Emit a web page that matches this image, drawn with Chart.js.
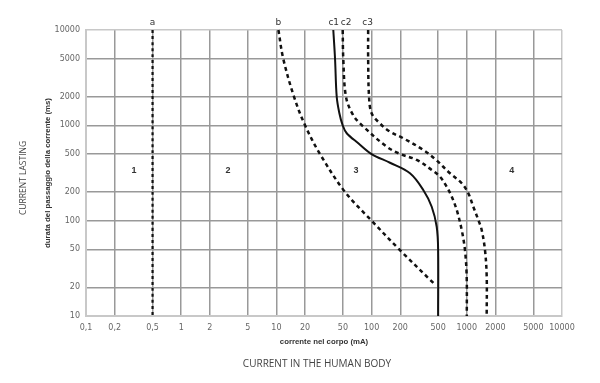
<!DOCTYPE html>
<html><head><meta charset="utf-8">
<script src="https://cdn.jsdelivr.net/npm/chart.js@4"></script>
<style>html,body{margin:0;padding:0;background:#fff;}#wrap{width:600px;height:383px;position:relative;}</style>
</head><body><div id="wrap"><canvas id="c"></canvas></div>
<script>
// Tick values and labels
const xTicks = [0.1,0.2,0.5,1,2,5,10,20,50,100,200,500,1000,2000,5000,10000];
const xTickLabels = ['0,1','0,2','0,5','1','2','5','10','20','50','100','200','500','1000','2000','5000','10000'];
const yTicks = [10,20,50,100,200,500,1000,2000,5000,10000];

// Curves (current mA, duration ms)
const aX = [0.5, 0.5];
const aY = [10000, 10];
const bX = [10.5, 11.8, 15.3, 20, 28.7, 52.6, 100, 195, 450];
const bY = [10000, 5000, 2000, 1000, 500, 200, 100, 50, 22];
const c1X = [39.6, 41.3, 43, 45.8, 49.7, 54.8, 72.5, 100, 156, 253, 349, 428, 483, 500, 500];
const c1Y = [10000, 5000, 2000, 1349, 1000, 826, 649, 500, 405, 314, 210, 140, 86, 49, 10];
const c2X = [49.7, 50.4, 53.8, 63.8, 79.3, 144, 200, 298, 428, 523, 615, 694, 783, 884, 957, 997, 1000];
const c2Y = [10000, 5000, 2000, 1285, 1000, 597, 500, 434, 340, 289, 227, 179, 130, 80, 49, 26, 10];
const c3X = [92, 92, 94, 100, 122, 156, 215, 349, 475, 666, 884, 1037, 1170, 1321, 1433, 1553, 1618, 1618];
const c3Y = [10000, 5000, 2000, 1340, 1050, 859, 732, 552, 434, 314, 247, 194, 140, 102, 80, 49, 26, 10];

// Curve name labels (placed above the plot at these currents)
const curveLabelText = ['a', 'b', 'c1', 'c2', 'c3'];
const curveLabelX = [0.5, 10.5, 40, 54, 91];
// Zone numbers
const zoneText = ['1', '2', '3', '4'];
const zoneX = [0.32, 3.1, 68.6, 2965];
const zoneY = [332, 332, 332, 332];

const pts = (xs, ys) => xs.map((x, i) => ({x, y: ys[i]}));

const labelsPlugin = {
  id: 'labelsPlugin',
  afterDraw(chart) {
    const {ctx, scales: {x, y}, chartArea} = chart;
    ctx.save();
    ctx.fillStyle = '#333';
    ctx.textAlign = 'center';
    ctx.textBaseline = 'middle';
    ctx.font = '9px "DejaVu Sans"';
    curveLabelText.forEach((t, i) => {
      ctx.fillText(t, x.getPixelForValue(curveLabelX[i]), chartArea.top - 7);
    });
    ctx.font = 'bold 9px "Liberation Sans"';
    zoneText.forEach((t, i) => {
      ctx.fillText(t, x.getPixelForValue(zoneX[i]), y.getPixelForValue(zoneY[i]));
    });
    ctx.fillStyle = '#444';
    ctx.font = '10px "Open Sans"';
    ctx.fillText('CURRENT IN THE HUMAN BODY', 317, 364);
    ctx.translate(24, 178);
    ctx.rotate(-Math.PI / 2);
    ctx.font = '8.5px "Open Sans"';
    ctx.fillText('CURRENT LASTING', 0, 0);
    ctx.restore();
  }
};

const lineDs = (label, data, dash, width) => ({
  label, data, showLine: true, pointRadius: 0, borderColor: '#111',
  borderWidth: width, borderDash: dash, tension: 0.35, fill: false, clip: 3
});

new Chart(document.getElementById('c'), {
  type: 'scatter',
  data: {
    datasets: [
      lineDs('a', pts(aX, aY), [3, 3], 2.2),
      lineDs('b', pts(bX, bY), [4, 3.5], 2.5),
      lineDs('c1', pts(c1X, c1Y), [], 2),
      lineDs('c2', pts(c2X, c2Y), [4, 3.5], 2.5),
      lineDs('c3', pts(c3X, c3Y), [4, 3.5], 2.5)
    ]
  },
  options: {
    responsive: true,
    maintainAspectRatio: false,
    animation: false,
    layout: {padding: {top: 30, right: 38, left: 0, bottom: 0}},
    plugins: {legend: {display: false}, tooltip: {enabled: false}},
    scales: {
      x: {
        type: 'logarithmic', min: 0.1, max: 10000,
        afterBuildTicks: s => { s.ticks = xTicks.map(v => ({value: v})); },
        afterFit: s => { s.height = 67; },
        ticks: {
          autoSkip: false, maxRotation: 0, padding: 7, color: '#666',
          font: {family: 'DejaVu Sans', size: 8},
          callback: v => xTickLabels[xTicks.indexOf(v)]
        },
        grid: {
          drawTicks: false, lineWidth: 1.5,
          color: c => (c.tick && (c.tick.value === 0.1 || c.tick.value === 10000)) ? '#c8c8c8' : '#999'
        },
        border: {display: true, color: '#c8c8c8', width: 2},
        title: {
          display: true, text: 'corrente nel corpo (mA)', color: '#333',
          font: {family: 'Liberation Sans', size: 7.8, weight: 'bold'},
          padding: {top: 0, bottom: 36}
        }
      },
      y: {
        type: 'logarithmic', min: 10, max: 10000,
        afterBuildTicks: s => { s.ticks = yTicks.map(v => ({value: v})); },
        afterFit: s => { s.width = 86; },
        ticks: {
          autoSkip: false, padding: 6, color: '#666',
          font: {family: 'DejaVu Sans', size: 8},
          callback: v => String(v)
        },
        grid: {
          drawTicks: false, lineWidth: 1.5,
          color: c => (c.tick && (c.tick.value === 10 || c.tick.value === 10000)) ? '#c8c8c8' : '#999'
        },
        border: {display: true, color: '#c8c8c8', width: 2},
        title: {
          display: true, text: 'durata del passaggio della corrente (ms)', color: '#333',
          font: {family: 'Liberation Sans', size: 7.8, weight: 'bold'},
          padding: {top: 43, bottom: 0}
        }
      }
    }
  },
  plugins: [labelsPlugin]
});
</script>
</body></html>
